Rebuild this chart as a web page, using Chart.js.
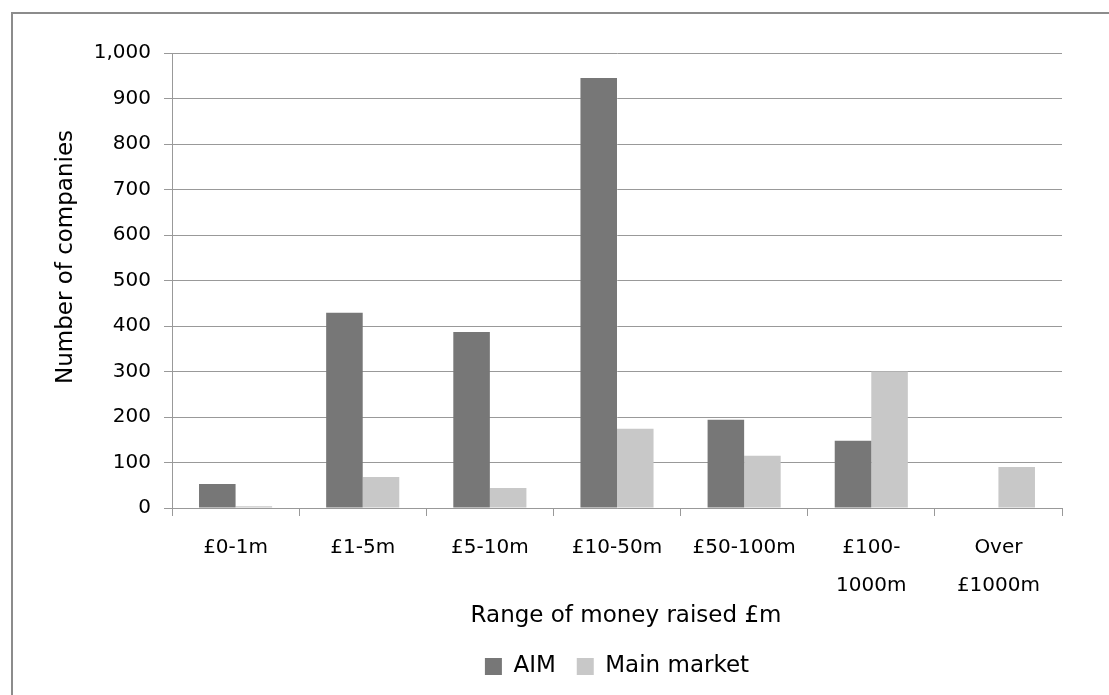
<!DOCTYPE html>
<html>
<head>
<meta charset="utf-8">
<script src="https://cdn.jsdelivr.net/npm/chart.js@4/dist/chart.umd.min.js"></script>
<style>
  html, body { margin: 0; padding: 0; background: #fff; }
  #wrap { width: 1109px; height: 695px; position: relative; }
</style>
</head>
<body>
<div id="wrap"><canvas id="c" width="1109" height="695"></canvas></div>
<script>
const categories = ["£0-1m", ["£1-5m"], ["£5-10m"], ["£10-50m"], ["£50-100m"], ["£100-", "1000m"], ["Over", "£1000m"]];
const aimValues = [53, 429, 387, 945, 194, 148, 0];
const mainMarketValues = [4, 68, 44, 174, 115, 300, 90];
const seriesNames = ["AIM", "Main market"];
const yAxisTitle = "Number of companies";
const xAxisTitle = "Range of money raised £m";

const FONT = "'DejaVu Sans', sans-serif";

const frame = {
  id: 'frame',
  beforeDraw(chart) {
    const ctx = chart.ctx;
    ctx.save();
    ctx.fillStyle = '#fff';
    ctx.fillRect(0, 0, chart.width, chart.height);
    ctx.strokeStyle = '#8c8c8c';
    ctx.lineWidth = 2;
    ctx.beginPath();
    ctx.moveTo(12, chart.height + 2);
    ctx.lineTo(12, 13);
    ctx.lineTo(chart.width + 2, 13);
    ctx.stroke();
    ctx.restore();
  },
  afterDraw(chart) {
    const ctx = chart.ctx;
    ctx.save();
    ctx.fillStyle = '#000';
    ctx.font = "23px " + FONT;
    ctx.textAlign = 'center';
    ctx.textBaseline = 'middle';
    // x axis title
    ctx.fillText(xAxisTitle, 626, 616);
    // y axis title (rotated)
    ctx.translate(66, 257);
    ctx.rotate(-Math.PI / 2);
    ctx.fillText(yAxisTitle, 0, 0);
    ctx.restore();
  }
};

new Chart(document.getElementById('c'), {
  type: 'bar',
  data: {
    labels: categories,
    datasets: [
      { label: seriesNames[0], data: aimValues, backgroundColor: '#777777', borderWidth: 0 },
      { label: seriesNames[1], data: mainMarketValues, backgroundColor: '#c8c8c8', borderWidth: 0 }
    ]
  },
  options: {
    responsive: false,
    animation: false,
    devicePixelRatio: 1,
    categoryPercentage: 0.575,
    barPercentage: 1.0,
    layout: { padding: { left: 0, right: 47, top: 53, bottom: 7 } },
    plugins: {
      tooltip: { enabled: false },
      title: { display: false },
      legend: {
        position: 'bottom',
        fullSize: false,
        labels: {
          boxWidth: 17, boxHeight: 17, padding: 21,
          color: '#000',
          font: { family: FONT, size: 23 }
        }
      }
    },
    scales: {
      x: {
        offset: true,
        grid: { display: true, drawOnChartArea: false, drawTicks: true, tickLength: 8, color: '#999', offset: true },
        border: { display: true, color: '#999', width: 1 },
        ticks: {
          color: '#000', padding: 13, maxRotation: 0, autoSkip: false,
          font: { family: FONT, size: 20, lineHeight: '38px' }
        },
        title: { display: false },
        afterFit(scale) { scale.height = 126; }
      },
      y: {
        min: 0, max: 1000,
        ticks: {
          stepSize: 100, color: '#000', padding: 13,
          font: { family: FONT, size: 20 }
        },
        grid: { color: '#999', tickLength: 8, drawTicks: true },
        border: { display: true, color: '#999', width: 1 },
        title: { display: false },
        afterFit(scale) { scale.width = 172; }
      }
    }
  },
  plugins: [frame]
});
</script>
</body>
</html>
